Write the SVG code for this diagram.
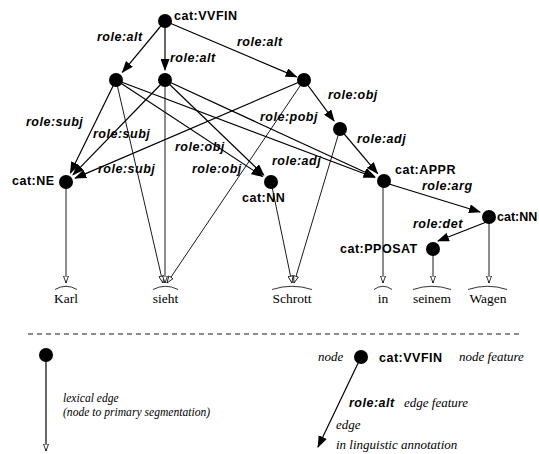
<svg xmlns="http://www.w3.org/2000/svg" width="539" height="454" viewBox="0 0 539 454">
  <style>
    .node { fill: #000; }
    .edge { stroke: #000; stroke-width: 1.2; fill: none; marker-end: url(#solid); }
    .lex { stroke: #000; stroke-width: 0.9; fill: none; marker-end: url(#hollow); }
    .arc { stroke: #000; stroke-width: 0.8; fill: none; }
    .cat { font-family: "Liberation Sans", Arial, sans-serif; font-weight: bold; font-size: 12.5px; letter-spacing: 0.5px; fill: #000; }
    .role { font-family: "Liberation Sans", Arial, sans-serif; font-weight: bold; font-style: italic; font-size: 12.5px; letter-spacing: 0.5px; fill: #000; }
    .word { font-family: "Liberation Serif", "Times New Roman", serif; font-size: 13.5px; fill: #000; text-anchor: middle; }
    .note { font-family: "Liberation Serif", "Times New Roman", serif; font-style: italic; font-size: 11.6px; fill: #000; }
    .note2 { font-family: "Liberation Serif", "Times New Roman", serif; font-style: italic; font-size: 13px; fill: #000; }
    .sep { stroke: #000; stroke-width: 0.9; stroke-dasharray: 5 4; }
  </style>
  <defs>
    <marker id="solid" viewBox="0 0 12 9" refX="11" refY="4.5" markerWidth="12" markerHeight="9" markerUnits="userSpaceOnUse" orient="auto">
      <path d="M0,0 L12,4.5 L0,9 Z" fill="#000"/>
    </marker>
    <marker id="hollow" viewBox="0 0 8 6" refX="7.5" refY="3" markerWidth="8" markerHeight="6" markerUnits="userSpaceOnUse" orient="auto">
      <path d="M0.5,0.5 L7.5,3 L0.5,5.5 Z" fill="#fff" stroke="#000" stroke-width="0.8"/>
    </marker>
  </defs>

  <!-- edges of the annotation graph -->
  <g id="connectors">
    <!-- secondary (role) edges -->
    <line class="edge" x1="165" y1="21" x2="122.4" y2="72.3"/>
    <line class="edge" x1="165" y1="21" x2="165" y2="70"/>
    <line class="edge" x1="165" y1="21" x2="296.6" y2="76.9"/>
    <line class="edge" x1="304" y1="80" x2="334.1" y2="120.9"/>
    <line class="edge" x1="340" y1="129" x2="377.5" y2="173.4"/>
    <line class="edge" x1="116" y1="80" x2="70.4" y2="173"/>
    <line class="edge" x1="165" y1="80" x2="73" y2="174.8"/>
    <line class="edge" x1="304" y1="80" x2="75.2" y2="178.1"/>
    <line class="edge" x1="116" y1="80" x2="262.6" y2="176.5"/>
    <line class="edge" x1="165" y1="80" x2="263.8" y2="175.1"/>
    <line class="edge" x1="116" y1="80" x2="374.6" y2="177.5"/>
    <line class="edge" x1="165" y1="80" x2="374.9" y2="176.8"/>
    <line class="edge" x1="389" y1="184" x2="480" y2="212"/>
    <line class="edge" x1="489" y1="221" x2="438" y2="241"/>

    <!-- lexical edges down to the tokens -->
    <line class="lex" x1="66" y1="182" x2="66" y2="283"/>
    <line class="lex" x1="116" y1="80" x2="163" y2="283"/>
    <line class="lex" x1="165" y1="80" x2="165" y2="283"/>
    <line class="lex" x1="304" y1="80" x2="167" y2="283"/>
    <line class="lex" x1="271" y1="182" x2="292" y2="283"/>
    <line class="lex" x1="340" y1="129" x2="294" y2="283"/>
    <line class="lex" x1="383" y1="181" x2="383" y2="283"/>
    <line class="lex" x1="433" y1="249" x2="433" y2="283"/>
    <line class="lex" x1="489" y1="217" x2="489" y2="283"/>

    <!-- edge features -->
    <text class="role" x="97" y="41">role:alt</text>
    <text class="role" x="170" y="62">role:alt</text>
    <text class="role" x="237" y="46">role:alt</text>
    <text class="role" x="26" y="126">role:subj</text>
    <text class="role" x="93" y="138">role:subj</text>
    <text class="role" x="98" y="173">role:subj</text>
    <text class="role" x="175" y="151">role:obj</text>
    <text class="role" x="192" y="173">role:obj</text>
    <text class="role" x="260" y="121">role:pobj</text>
    <text class="role" x="328" y="99">role:obj</text>
    <text class="role" x="357" y="143">role:adj</text>
    <text class="role" x="272" y="165">role:adj</text>
    <text class="role" x="422" y="190">role:arg</text>
    <text class="role" x="413" y="228">role:det</text>
  </g>

  <!-- inner nodes -->
  <g id="n-vvfin"><circle class="node" cx="165" cy="21" r="7"/><text class="cat" x="174" y="20">cat:VVFIN</text></g>
  <g id="n-alt1"><circle class="node" cx="116" cy="80" r="7"/></g>
  <g id="n-alt2"><circle class="node" cx="165" cy="80" r="7"/></g>
  <g id="n-alt3"><circle class="node" cx="304" cy="80" r="7"/></g>
  <g id="n-obj"><circle class="node" cx="340" cy="129" r="7"/></g>
  <g id="n-ne"><circle class="node" cx="66" cy="182" r="7"/><text class="cat" x="12" y="185">cat:NE</text></g>
  <g id="n-nn"><circle class="node" cx="271" cy="182" r="7"/><text class="cat" x="242" y="202">cat:NN</text></g>
  <g id="n-appr"><circle class="node" cx="384" cy="181" r="7"/><text class="cat" x="395" y="174">cat:APPR</text></g>
  <g id="n-nn2"><circle class="node" cx="489" cy="217" r="7"/><text class="cat" x="497" y="221" style="letter-spacing:0">cat:NN</text></g>
  <g id="n-pposat"><circle class="node" cx="433" cy="249" r="7"/><text class="cat" x="340" y="253">cat:PPOSAT</text></g>

  <!-- primary segmentation (tokens) -->
  <g id="t-karl"><path class="arc" d="M55,289.5 Q66,283 77,289.5"/><text class="word" x="66" y="303">Karl</text></g>
  <g id="t-sieht"><path class="arc" d="M153,289.5 Q165.5,283 178,289.5"/><text class="word" x="165.5" y="303">sieht</text></g>
  <g id="t-schrott"><path class="arc" d="M272,289.5 Q292,283 312,289.5"/><text class="word" x="292" y="303">Schrott</text></g>
  <g id="t-in"><path class="arc" d="M374,289.5 Q383,283 392,289.5"/><text class="word" x="383" y="303">in</text></g>
  <g id="t-seinem"><path class="arc" d="M413,289.5 Q432,283 451,289.5"/><text class="word" x="432" y="303">seinem</text></g>
  <g id="t-wagen"><path class="arc" d="M468,289.5 Q487.5,283 507,289.5"/><text class="word" x="488" y="303">Wagen</text></g>

  <!-- key -->
  <g id="legend">
    <line class="sep" x1="28" y1="334" x2="523" y2="334"/>
    <line class="lex" x1="46" y1="355" x2="46" y2="451" style="stroke-width:1.2"/>
    <circle class="node" cx="46" cy="355" r="7"/>
    <text class="note" x="63" y="402">lexical edge</text>
    <text class="note" x="63" y="416">(node to primary segmentation)</text>

    <line class="edge" x1="361" y1="357" x2="318" y2="447"/>
    <circle class="node" cx="361" cy="357" r="7"/>
    <text class="note2" x="318" y="361">node</text>
    <text class="cat" x="379" y="362">cat:VVFIN</text>
    <text class="note2" x="459" y="361">node feature</text>
    <text class="role" x="349" y="407">role:alt</text>
    <text class="note2" x="404" y="407">edge feature</text>
    <text class="note2" x="336" y="429">edge</text>
    <text class="note2" x="336" y="449">in linguistic annotation</text>
  </g>
</svg>
